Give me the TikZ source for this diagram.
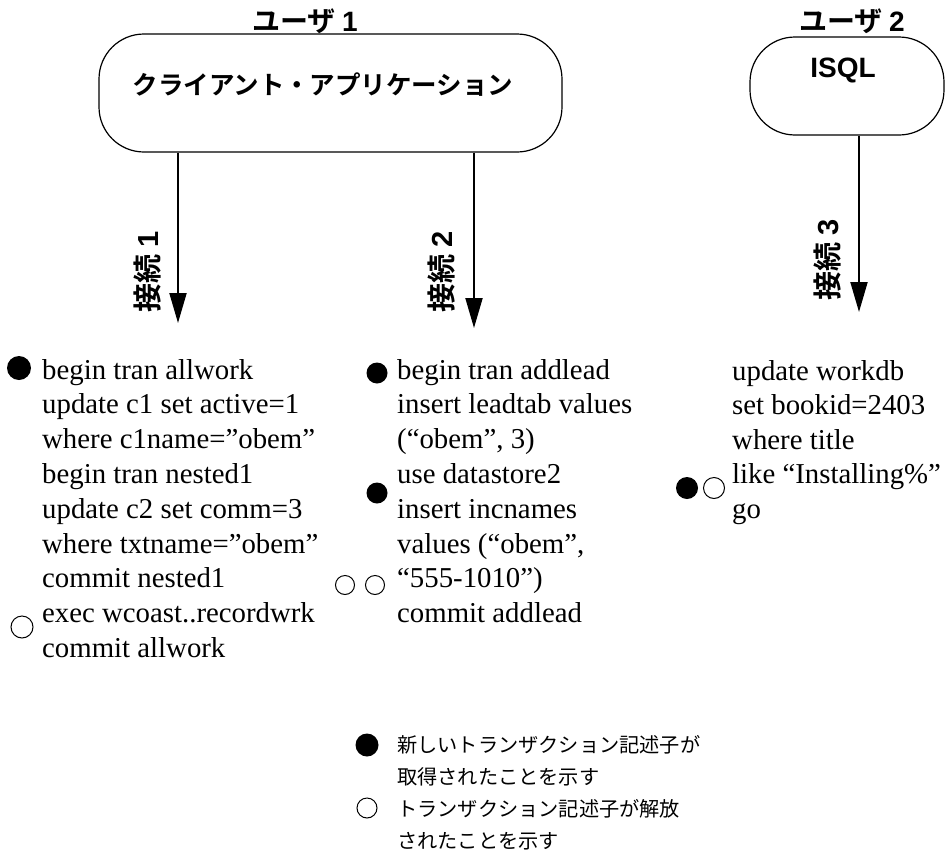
\documentclass[tikz,border=0pt]{standalone}
\usepackage{fontspec}
\usetikzlibrary{arrows.meta}
\setmainfont{Liberation Serif}
\newfontfamily\jpbold{Noto Sans CJK JP Bold}
\newfontfamily\jpreg{Noto Sans CJK JP}
\newfontfamily\arialf{Liberation Sans}
\tikzset{
  appbox/.style={draw, line width=1.2pt, rounded corners=45pt, inner sep=0pt},
  conn/.style={line width=2pt, -{Triangle[width=17pt,length=30pt]}},
  codeline/.style={anchor=base west, inner sep=0pt, font=\fontsize{28.8}{34.8}\selectfont},
  titletext/.style={inner sep=0pt, font=\jpbold\fontsize{28}{30}\selectfont},
  connlabel/.style={inner sep=0pt, rotate=90, font=\jpbold\fontsize{29}{30}\selectfont},
  legendtext/.style={anchor=west, inner sep=0pt, font=\jpreg\fontsize{20.2}{24}\selectfont},
  fulldot/.style={circle, fill=black, inner sep=0pt},
  opendot/.style={circle, draw=black, line width=1pt, inner sep=0pt}
}
\begin{document}
\begin{tikzpicture}[x=1pt, y=-1pt]
\useasboundingbox (0,0) rectangle (948,854);

% users and application boxes
\node[titletext] (u1) at (305,21) {ユーザ {\arialf\bfseries 1}};
\node[titletext] (u2) at (852,21) {ユーザ {\arialf\bfseries 2}};
\node[appbox, minimum width=463pt, minimum height=118pt] (box1) at (330.5,93) {};
\node[appbox, minimum width=194pt, minimum height=98pt] (box2) at (847,86) {};
\node[inner sep=0pt, font=\jpbold\fontsize{25.5}{28}\selectfont] (app) at (323,85) {クライアント・アプリケーション};
\node[inner sep=0pt, font=\arialf\bfseries\fontsize{28}{30}\selectfont] (isql) at (843,70) {ISQL};

% connections
\coordinate (t1) at (178,323);
\coordinate (t2) at (474,328);
\coordinate (t3) at (859,312);
\draw[conn] (t1 |- box1.south) -- (t1);
\draw[conn] (t2 |- box1.south) -- (t2);
\draw[conn] (t3 |- box2.south) -- (t3);
\node[connlabel] (c1) at (148,272) {接続 {\arialf\bfseries 1}};
\node[connlabel] (c2) at (442,272) {接続 {\arialf\bfseries 2}};
\node[connlabel] (c3) at (827,260) {接続 {\arialf\bfseries 3}};

% block 1
\foreach \s [count=\i from 0] in {begin tran allwork, update c1 set active=1, where c1name=”obem”, begin tran nested1, update c2 set comm=3, where txtname=”obem”, commit nested1, exec wcoast..recordwrk, commit allwork}
  \node[codeline] (a\i) at (42,{379+34.8*\i}) {\s};
% block 2
\foreach \s [count=\i from 0] in {begin tran addlead, insert leadtab values, {(“obem”, 3)}, use datastore2, insert incnames, {values (“obem”,}, “555-1010”), commit addlead}
  \node[codeline] (b\i) at (397,{379+34.8*\i}) {\s};
% block 3
\foreach \s [count=\i from 0] in {update workdb, set bookid=2403, where title, like “Installing\%”, go}
  \node[codeline] (e\i) at (732,{380+34.5*\i}) {\s};

% markers
\node[fulldot, minimum size=24pt] (m1) at (19,368) {};
\node[opendot, minimum size=22pt] (m2) at (22,627) {};
\node[fulldot, minimum size=21pt] (m3) at (377,373) {};
\node[fulldot, minimum size=21pt] (m4) at (377,493) {};
\node[opendot, minimum size=19pt] (m5) at (345,585) {};
\node[opendot, minimum size=19pt] (m6) at (375,585) {};
\node[fulldot, minimum size=22pt] (m7) at (687,488) {};
\node[opendot, minimum size=21pt] (m8) at (714,488) {};

% legend
\node[fulldot, minimum size=23pt] (lg1) at (367,745) {};
\node[opendot, minimum size=20pt] (lg2) at (367,808) {};
\node[legendtext] (lt1) at (397,745) {新しいトランザクション記述子が};
\node[legendtext] (lt2) at (397,777) {取得されたことを示す};
\node[legendtext] (lt3) at (397,809) {トランザクション記述子が解放};
\node[legendtext] (lt4) at (397,841) {されたことを示す};
\end{tikzpicture}
\end{document}
